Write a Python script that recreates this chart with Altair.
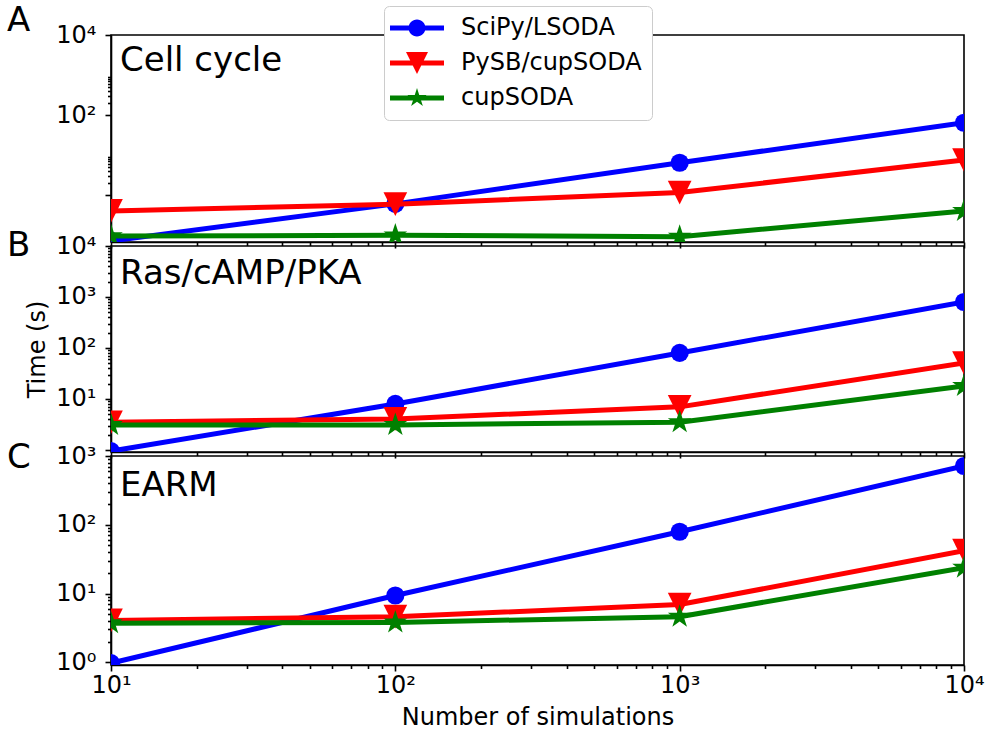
import math
import altair as alt
import pandas as pd

# ---------------- data ----------------
n_sims = [10, 100, 1000, 10000]
series_names = ["SciPy/LSODA", "PySB/cupSODA", "cupSODA"]
series_colors = ["#0000ff", "#ff0000", "#008000"]

cell_scipy = [0.071, 0.60, 6.4, 64]
cell_pysb = [0.40, 0.59, 1.15, 7.5]
cell_cupsoda = [0.094, 0.098, 0.091, 0.40]

ras_scipy = [0.95, 8.0, 80, 798]
ras_pysb = [3.5, 4.06, 7.0, 50.8]
ras_cupsoda = [3.1, 3.1, 3.5, 18]

earm_scipy = [0.97, 9.35, 79, 716]
earm_pysb = [4.06, 4.6, 6.9, 42]
earm_cupsoda = [3.7, 3.8, 4.6, 23.8]

panel_letters = ["A", "B", "C"]
panel_titles = ["Cell cycle", "Ras/cAMP/PKA", "EARM"]
y_domain_exp = [[-1.175, 4], [-0.04, 4], [-0.04, 3]]
y_major_exp = [[4, 2, 0], [4, 3, 2, 1, 0], [3, 2, 1, 0]]
y_label_exp = [[4, 2], [4, 3, 2, 1], [3, 2, 1, 0]]
y_minor_decades = [[2, 0], [3, 2, 1, 0], [2, 1, 0]]
x_major_exp = [1, 2, 3, 4]
x_label_exp = [1, 2, 3, 4]

FONT = "DejaVu Sans"
SUP = {0: "⁰", 1: "¹", 2: "²", 3: "³", 4: "⁴"}

panel_series = [
    [cell_scipy, cell_pysb, cell_cupsoda],
    [ras_scipy, ras_pysb, ras_cupsoda],
    [earm_scipy, earm_pysb, earm_cupsoda],
]

# ---------------- marker shapes ----------------
def star_path(r_out, r_in_ratio=0.382):
    pts = []
    for k in range(10):
        ang = math.radians(-90 + 36 * k)
        r = r_out if k % 2 == 0 else r_out * r_in_ratio
        pts.append((r * math.cos(ang), r * math.sin(ang)))
    return "M" + " L".join(f"{x:.4f},{y:.4f}" for x, y in pts) + " Z"


def circle_path(r):
    return f"M{-r},0 A{r},{r} 0 1,1 {r},0 A{r},{r} 0 1,1 {-r},0 Z"


def tri_path(a):
    return f"M0,{a} L{-a},{-a} L{a},{-a} Z"


plot_shapes = ["circle", tri_path(1.0), star_path(1.0)]
plot_sizes = [330, 560, 620]

line_seg = "M-2.7,-0.25 L2.7,-0.25 L2.7,0.25 L-2.7,0.25 Z "
legend_shapes = [
    line_seg + circle_path(0.85),
    line_seg + tri_path(1.1),
    line_seg + star_path(1.0),
]

# ---------------- helpers ----------------
MAJOR_TEST = "abs(log(datum.value)/LN10 - round(log(datum.value)/LN10)) < 0.001"


def label_expr(exps):
    expr = "''"
    for e in reversed(exps):
        expr = f"datum.value == {10.0 ** e!r} ? '10{SUP[e]}' : ({expr})"
    return expr


def y_ticks(i):
    lo, hi = y_domain_exp[i]
    vals = [10.0 ** e for e in y_major_exp[i]]
    for d in y_minor_decades[i]:
        for k in range(2, 10):
            v = k * 10.0 ** d
            if 10 ** lo <= v <= 10 ** hi:
                vals.append(v)
    return vals


x_ticks = [10.0 ** e for e in x_major_exp] + [
    k * 10.0 ** d for d in [1, 2, 3] for k in range(2, 10)
]

rows = []
for p in range(3):
    for s, vals in zip(series_names, panel_series[p]):
        for n, v in zip(n_sims, vals):
            rows.append({"panel": p, "series": s, "n": n, "t": v})
df = pd.DataFrame(rows)

heights = [207, 206, 209]
title_baselines = [36, 38, 40]
letter_baselines = [-4, 10, 12]


def make_panel(i):
    last = i == 2
    x_axis = alt.Axis(
        values=x_ticks,
        labels=last,
        labelExpr=label_expr(x_label_exp),
        labelFlush=False,
        labelOverlap=False,
        labelFontSize=24,
        labelPadding=2,
        tickSize={"condition": {"test": MAJOR_TEST, "value": 6}, "value": 3.5},
        tickColor="black",
        tickWidth=1.6,
        domainColor="black",
        domainWidth=1.6,
        grid=False,
        title="Number of simulations" if last else None,
        titleFontSize=24,
        titleFontWeight="normal",
        titlePadding=8,
    )
    y_axis = alt.Axis(
        values=y_ticks(i),
        labelExpr=label_expr(y_label_exp[i]),
        labelOverlap=False,
        labelFontSize=24,
        labelPadding=9,
        tickSize={"condition": {"test": MAJOR_TEST, "value": 6}, "value": 3.5},
        tickColor="black",
        tickWidth=1.6,
        domainColor="black",
        domainWidth=1.6,
        grid=False,
        title="Time (s)" if i == 1 else None,
        titleFontSize=24,
        titleFontWeight="normal",
        titlePadding=6,
    )
    lo, hi = y_domain_exp[i]
    x_enc = alt.X(
        "n:Q",
        scale=alt.Scale(type="log", domain=[10, 10000], nice=False),
        axis=x_axis,
    )
    y_enc = alt.Y(
        "t:Q",
        scale=alt.Scale(type="log", domain=[10 ** lo, 10 ** hi], nice=False),
        axis=y_axis,
    )
    base = alt.Chart(df).transform_filter(alt.datum.panel == i)
    layers = []
    for s, col, shp, sz in zip(series_names, series_colors, plot_shapes, plot_sizes):
        sub = base.transform_filter(alt.datum.series == s)
        layers.append(
            sub.mark_line(color=col, strokeWidth=5, strokeJoin="round", clip=True).encode(
                x=x_enc, y=y_enc
            )
        )
        layers.append(
            sub.mark_point(
                shape=shp, filled=True, size=sz, color=col, opacity=1, clip=True
            ).encode(x=x_enc, y=y_enc)
        )
    txt = pd.DataFrame({"label": [panel_titles[i]], "letter": [panel_letters[i]]})
    layers.append(
        alt.Chart(txt)
        .mark_text(align="left", baseline="alphabetic", fontSize=34, font=FONT, color="black")
        .encode(x=alt.value(9), y=alt.value(title_baselines[i]), text="label:N")
    )
    layers.append(
        alt.Chart(txt)
        .mark_text(align="left", baseline="alphabetic", fontSize=34, font=FONT, color="black")
        .encode(x=alt.value(-104), y=alt.value(letter_baselines[i]), text="letter:N")
    )
    if i == 0:
        leg = alt.Legend(
            title=None,
            orient="none",
            legendX=273,
            legendY=-29,
            padding=10,
            fillColor="white",
            strokeColor="#cccccc",
            cornerRadius=5,
            labelFont=FONT,
            labelFontSize=24,
            labelColor="black",
            labelLimit=400,
            symbolSize=400,
            symbolStrokeWidth=0,
            symbolOffset=11,
            labelOffset=32,
            rowPadding=11,
        )
        layers.append(
            base.transform_filter("false")
            .mark_point(filled=True, opacity=1, size=400)
            .encode(
                color=alt.Color(
                    "series:N",
                    scale=alt.Scale(domain=series_names, range=series_colors),
                    legend=leg,
                ),
                shape=alt.Shape(
                    "series:N",
                    scale=alt.Scale(domain=series_names, range=legend_shapes),
                    legend=leg,
                ),
            )
        )
    return alt.layer(*layers).properties(width=853, height=heights[i])


chart = (
    alt.vconcat(make_panel(0), make_panel(1), make_panel(2), spacing=4, bounds="flush")
    .properties(padding={"left": 6, "top": 3, "right": 0, "bottom": 5})
    .configure(font=FONT)
    .configure_view(stroke="black", strokeWidth=1.6)
    .configure_axis(labelFont=FONT, titleFont=FONT, labelColor="black", titleColor="black")
)

chart.save("out.html", embed_options={"renderer": "svg", "actions": False})
